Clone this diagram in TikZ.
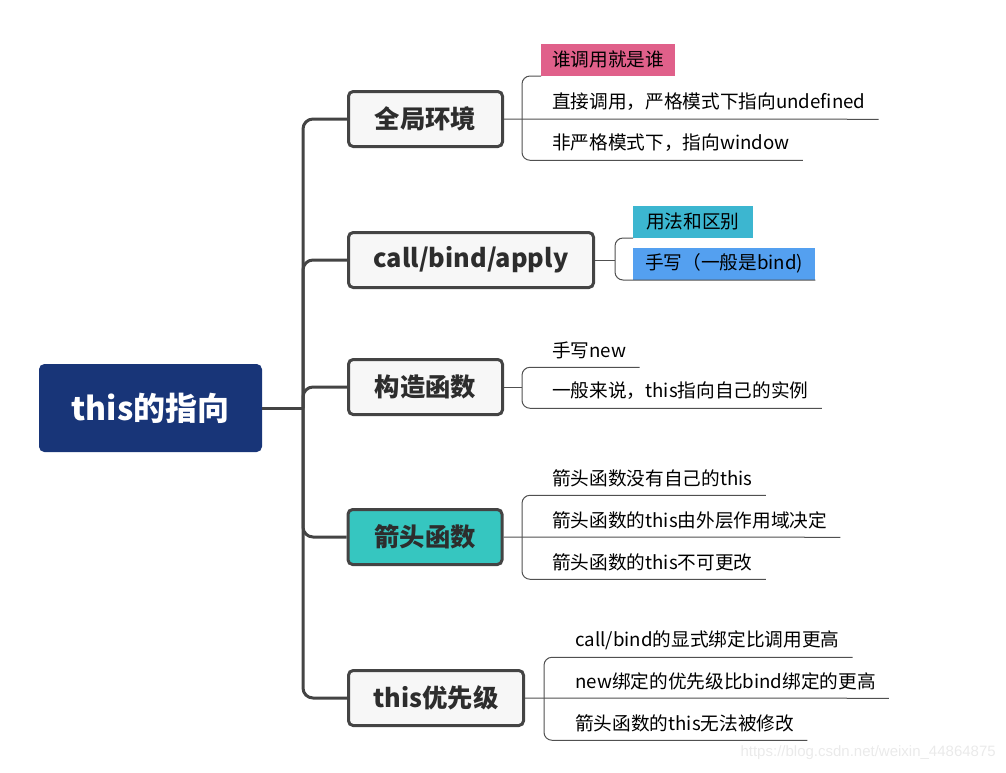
\documentclass[tikz,border=0pt]{standalone}
\usepackage{fontspec}
\setmainfont{Noto Sans CJK SC}
\newfontfamily\wmfont{Liberation Sans}
\usetikzlibrary{calc}
\definecolor{navy}{RGB}{24,53,120}
\definecolor{linec}{RGB}{68,68,68}
\definecolor{boxfill}{RGB}{247,247,247}
\definecolor{tealfill}{RGB}{54,198,192}
\definecolor{pinkfill}{RGB}{224,96,138}
\definecolor{cyanfill}{RGB}{60,182,208}
\definecolor{bluefill}{RGB}{84,160,240}
\definecolor{thinline}{RGB}{80,80,80}
\definecolor{topictext}{RGB}{45,45,45}
\definecolor{wmcol}{RGB}{234,234,234}
\newcommand{\leaffont}{\fontsize{14pt}{16pt}\selectfont}
\newcommand{\topicfont}{\fontsize{19pt}{22pt}\selectfont\bfseries}
\newcommand{\rootfont}{\fontsize{24pt}{28pt}\selectfont\bfseries}
\begin{document}
\begin{tikzpicture}[x=0.75pt,y=-0.75pt,
  rootbox/.style={fill=navy, rounded corners=4pt, inner sep=0, minimum width=167.25pt, minimum height=66pt, text=white, font=\rootfont},
  topic/.style={draw=linec, line width=2.25pt, fill=boxfill, rounded corners=3.5pt, inner sep=0, minimum width=115.5pt, minimum height=41.25pt, text=topictext, font=\topicfont},
  leaf/.style={inner sep=0, minimum height=25.5pt, anchor=west, font=\leaffont},
  fillleaf/.style={inner xsep=8.25pt, inner ysep=0, minimum height=24pt, font=\leaffont, anchor=south west},
  trunk/.style={draw=linec, line width=2.25pt, rounded corners=7.5pt},
  leafline/.style={draw=thinline, line width=0.75pt, rounded corners=6pt}
]
\useasboundingbox (0,0) rectangle (1006,772);

% root and main topics
\node[rootbox] (root) at (150.5,408) {this的指向};
\node[topic] (b1) at (425.5,119) {全局环境};
\node[topic, minimum width=183.75pt] (b2) at (471,260) {call/bind/apply};
\node[topic] (b3) at (425.5,387) {构造函数};
\node[topic, fill=tealfill] (b4) at (425,537) {箭头函数};
\node[topic, minimum width=131.25pt] (b5) at (436,698) {this优先级};

\coordinate (tr) at (303,408);
\draw[trunk] (root.east) -- (tr);
\foreach \b in {b1,b2,b3,b4,b5} \draw[trunk] (tr) |- (\b.west);

% branch 1
\node[fillleaf, fill=pinkfill] (l11) at (541,76) {谁调用就是谁};
\node[leaf] (l12) at (552,102) {直接调用，严格模式下指向undefined};
\node[leaf] (l13) at (552,143) {非严格模式下，指向window};
\draw[leafline] (b1.east) -- ($(l12.south east)+(13,0)$);
\draw[leafline] (l11.south west) -| ($(l13.south west)+(-30,0)$) -- ($(l13.south east)+(13,0)$);

% branch 2
\node[fillleaf, fill=cyanfill, inner xsep=9.75pt] (l21) at (633,238) {用法和区别};
\node[fillleaf, fill=bluefill, inner xsep=9pt] (l22) at (633,280) {手写（一般是bind)};
\coordinate (brk2) at (615,260);
\draw[leafline] (b2.east) -- (b2.east -| brk2);
\draw[leafline] (l21.south west) -| ($(l22.south west)+(-18,0)$) -- (l22.south east);

% branch 3
\node[leaf] (l31) at (552,350) {手写new};
\node[leaf] (l32) at (552,391) {一般来说，this指向自己的实例};
\coordinate (brk3) at (522,387);
\draw[leafline] (b3.east) -- (b3.east -| brk3);
\draw[leafline] ($(l31.south east)+(13,0)$) -| ($(l32.south west)+(-30,0)$) -- ($(l32.south east)+(13,0)$);

% branch 4
\node[leaf] (l41) at (552,478) {箭头函数没有自己的this};
\node[leaf] (l42) at (552,520) {箭头函数的this由外层作用域决定};
\node[leaf] (l43) at (552,562) {箭头函数的this不可更改};
\draw[leafline] (b4.east) -- ($(l42.south east)+(13,0)$);
\draw[leafline] ($(l41.south east)+(13,0)$) -| ($(l43.south west)+(-30,0)$) -- ($(l43.south east)+(13,0)$);

% branch 5
\node[leaf] (l51) at (575,640) {call/bind的显式绑定比调用更高};
\node[leaf] (l52) at (575,681) {new绑定的优先级比bind绑定的更高};
\node[leaf] (l53) at (575,723) {箭头函数的this无法被修改};
\draw[leafline] (b5.east) -- ($(l52.south east)+(13,0)$);
\draw[leafline] ($(l51.south east)+(13,0)$) -| ($(l53.south west)+(-31,0)$) -- ($(l53.south east)+(13,0)$);

% watermark
\node[anchor=east, text=wmcol, inner sep=0, font=\wmfont\fontsize{11.25pt}{13pt}\selectfont] (wm) at (996,753) {https://blog.csdn.net/weixin\_44864875};
\end{tikzpicture}
\end{document}
